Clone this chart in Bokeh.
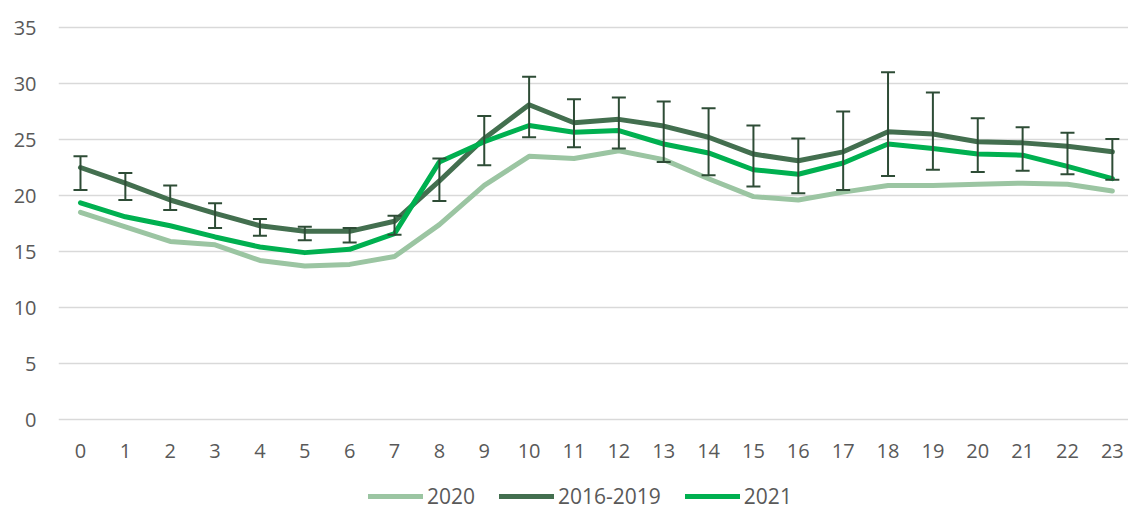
from bokeh.plotting import figure
from bokeh.models import ColumnDataSource, Whisker, Legend, LegendItem, Range1d, FixedTicker, TeeHead
from bokeh.embed import file_html
from bokeh.resources import INLINE

hours = list(range(24))
s2020 = [18.5, 17.2, 15.9, 15.6, 14.2, 13.7, 13.85, 14.55, 17.4, 20.9, 23.5, 23.3,
         24.0, 23.2, 21.5, 19.9, 19.6, 20.3, 20.9, 20.9, 21.0, 21.1, 21.0, 20.4]
s1619 = [22.5, 21.1, 19.6, 18.4, 17.3, 16.8, 16.8, 17.7, 21.3, 25.1, 28.1, 26.5,
         26.8, 26.2, 25.2, 23.7, 23.1, 23.9, 25.7, 25.5, 24.8, 24.7, 24.4, 23.9]
s1619_hi = [23.5, 22.0, 20.9, 19.3, 17.9, 17.2, 17.1, 18.2, 23.3, 27.1, 30.6, 28.6,
            28.75, 28.4, 27.8, 26.25, 25.1, 27.5, 31.0, 29.2, 26.9, 26.1, 25.6, 25.05]
s1619_lo = [20.5, 19.6, 18.7, 17.1, 16.4, 16.0, 15.8, 16.5, 19.5, 22.7, 25.2, 24.3,
            24.2, 23.0, 21.8, 20.8, 20.2, 20.5, 21.75, 22.3, 22.1, 22.2, 21.9, 21.4]
s2021 = [19.35, 18.1, 17.3, 16.3, 15.4, 14.9, 15.2, 16.6, 23.0, 24.8, 26.25, 25.65,
         25.8, 24.6, 23.8, 22.3, 21.9, 22.9, 24.6, 24.2, 23.7, 23.6, 22.6, 21.5]
y_ticks = [0, 5, 10, 15, 20, 25, 30, 35]
labels = ["2020", "2016-2019", "2021"]

FONT = "Open Sans"
TXT = "#595959"

p = figure(width=1128, height=510, output_backend="svg", toolbar_location=None,
           x_range=Range1d(-0.49, 23.36), y_range=Range1d(-8.125, 35.18),
           min_border_left=58, min_border_right=0, min_border_top=25, min_border_bottom=0)
p.outline_line_color = None
p.background_fill_color = "white"
p.border_fill_color = "white"

p.xgrid.grid_line_color = None
p.ygrid.grid_line_color = "#D9D9D9"
p.ygrid.grid_line_width = 1.5

for ax in (p.xaxis, p.yaxis):
    ax.axis_line_color = None
    ax.major_tick_line_color = None
    ax.minor_tick_line_color = None
    ax.major_tick_out = 0
    ax.major_tick_in = 0
    ax.major_label_text_font = FONT
    ax.major_label_text_font_size = "20px"
    ax.major_label_text_color = TXT

p.yaxis.ticker = FixedTicker(ticks=y_ticks)
p.xaxis.ticker = FixedTicker(ticks=hours)
p.yaxis.major_label_standoff = 22
p.xaxis.major_label_standoff = 24
p.xaxis.fixed_location = 0

src = ColumnDataSource(dict(x=hours, a=s2020, b=s1619, hi=s1619_hi, lo=s1619_lo, c=s2021))

r1 = p.line("x", "a", source=src, line_color="#9BC5A2", line_width=5, line_join="round", line_cap="round")
r2 = p.line("x", "b", source=src, line_color="#436F4F", line_width=5, line_join="round", line_cap="round")
wh = Whisker(base="x", upper="hi", lower="lo", source=src, level="glyph",
             line_color="#2E4C36", line_width=2,
             upper_head=TeeHead(size=14, line_color="#2E4C36", line_width=2),
             lower_head=TeeHead(size=14, line_color="#2E4C36", line_width=2))
p.add_layout(wh)
r3 = p.line("x", "c", source=src, line_color="#00B050", line_width=5, line_join="round", line_cap="round")

legend = Legend(items=[LegendItem(label=labels[0], renderers=[r1]),
                       LegendItem(label=labels[1], renderers=[r2]),
                       LegendItem(label=labels[2], renderers=[r3])],
                orientation="horizontal", location=(310, 0),
                glyph_width=55, glyph_height=18, label_standoff=4, spacing=24,
                padding=0, margin=0, border_line_color=None, background_fill_alpha=0,
                label_text_font=FONT, label_text_font_size="21px", label_text_color=TXT)
p.add_layout(legend)

open("out.html", "w").write(file_html(p, INLINE))
